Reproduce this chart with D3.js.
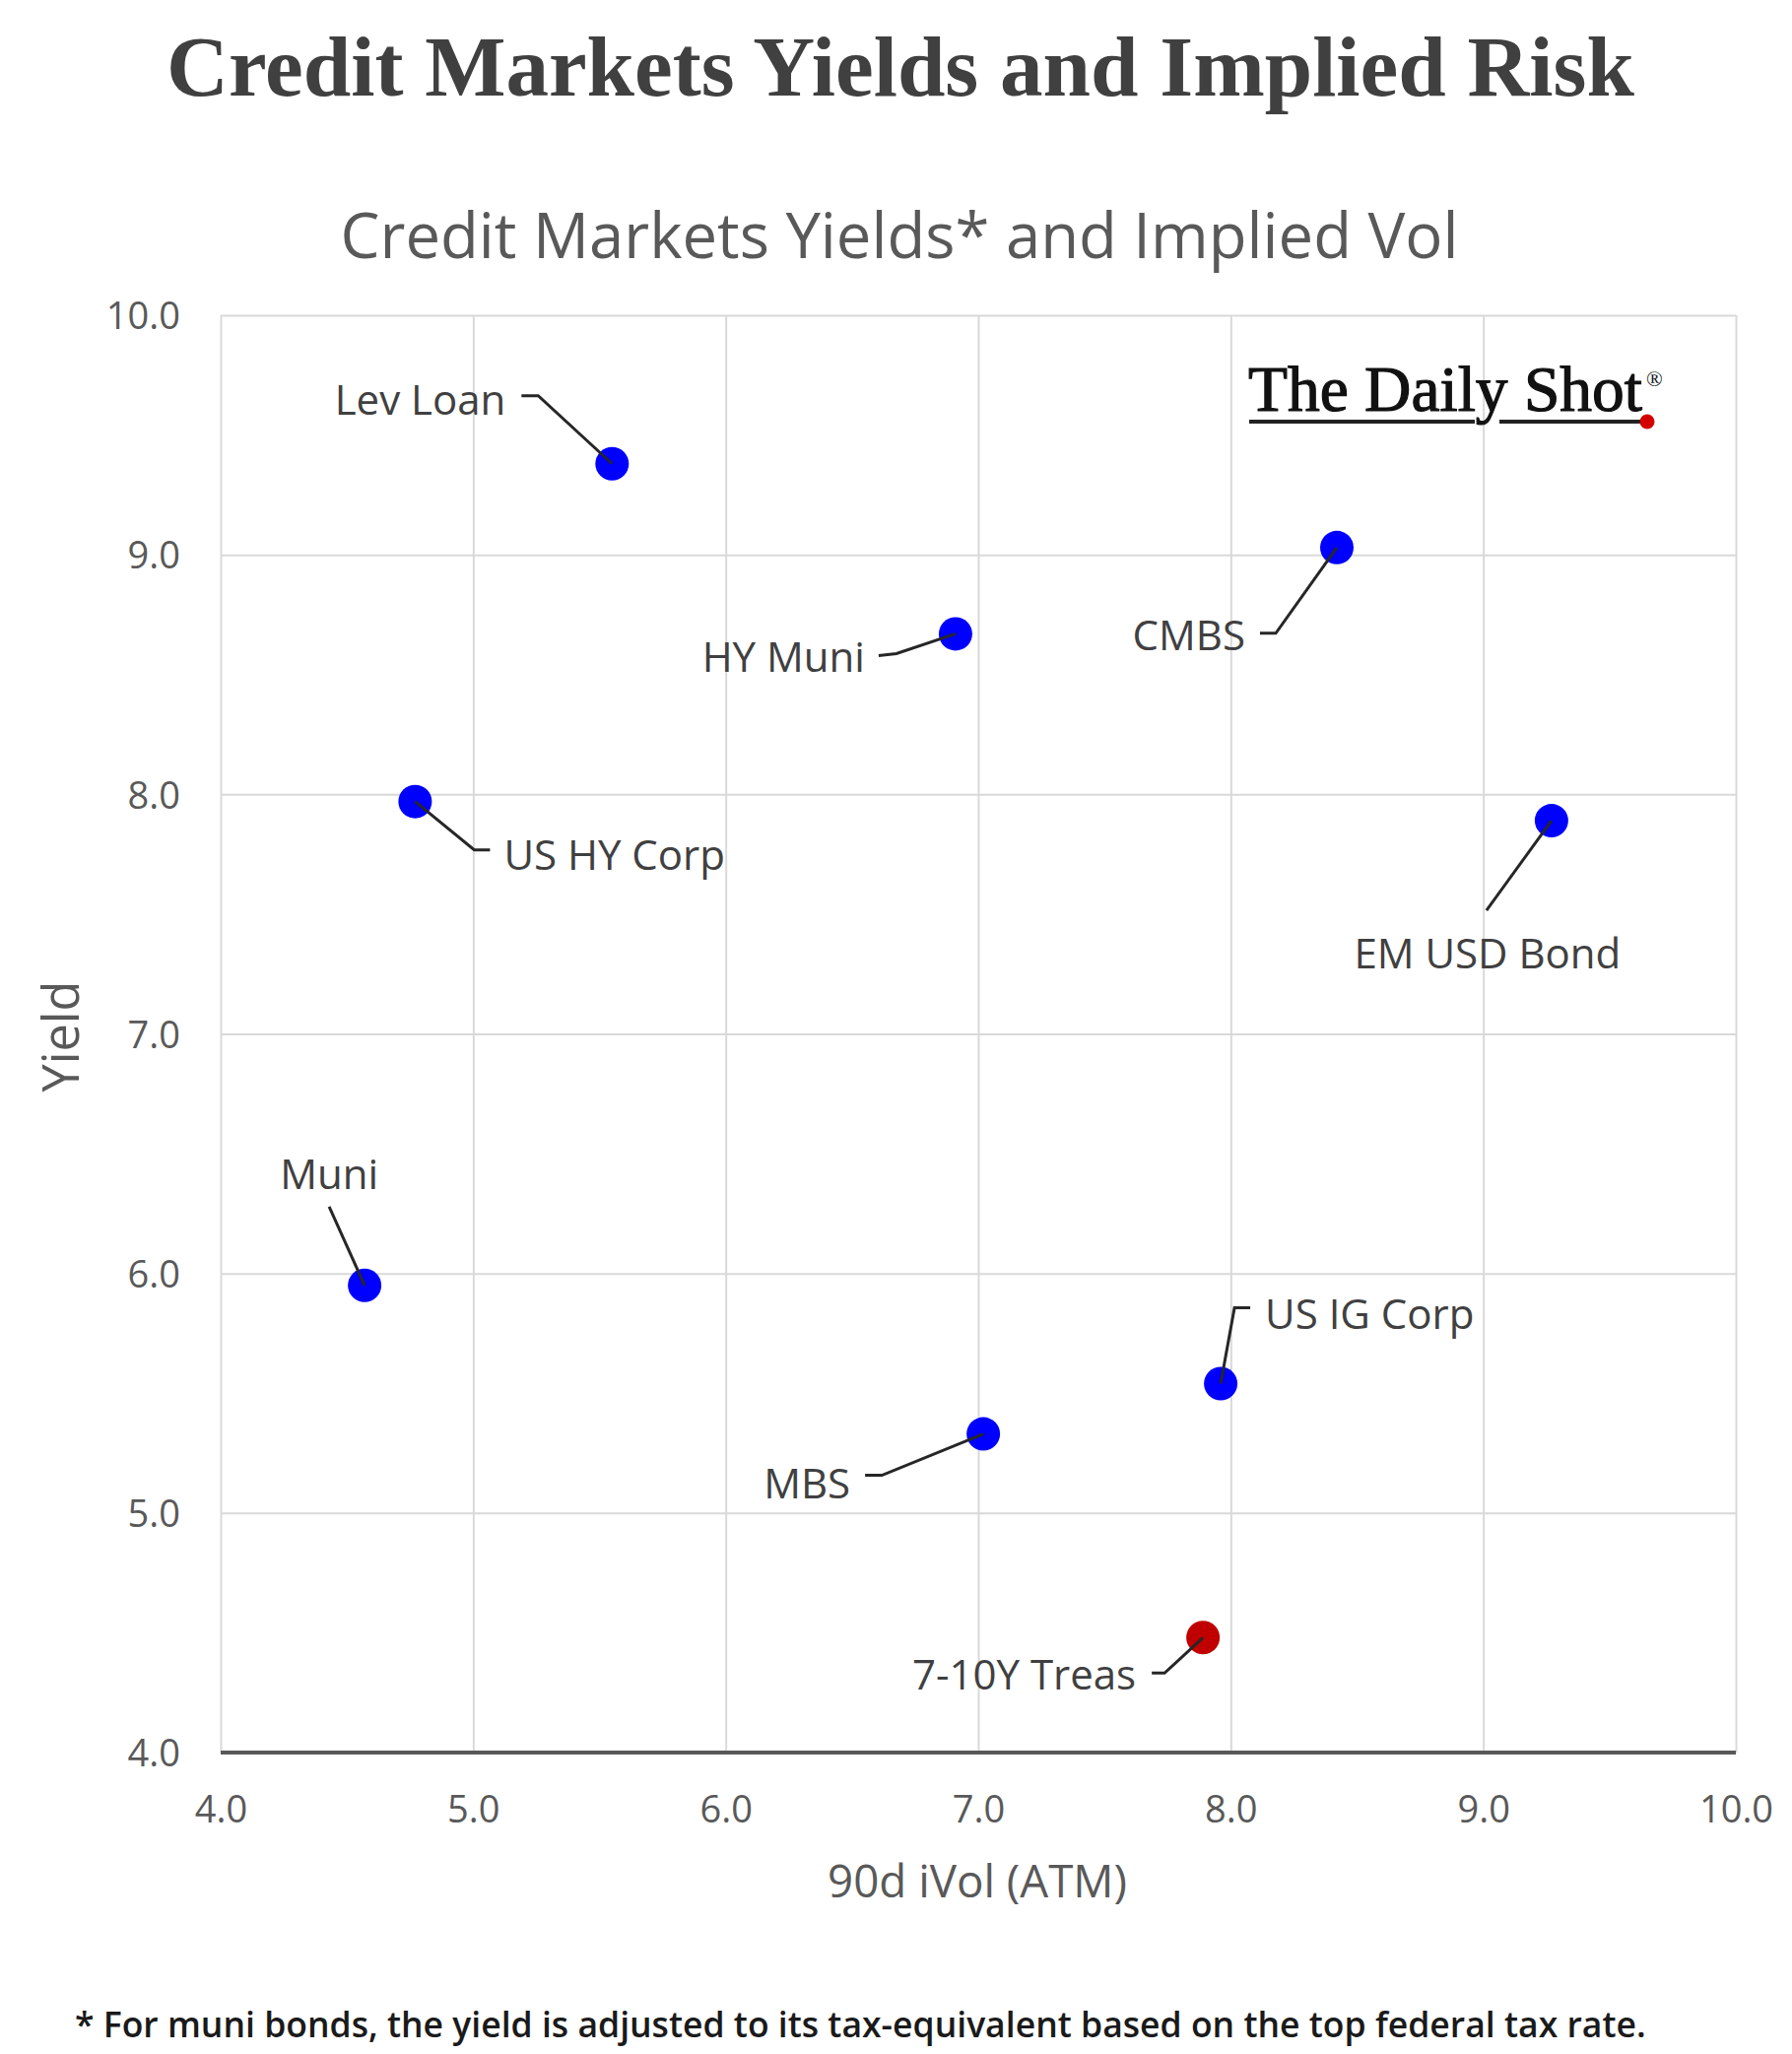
<!DOCTYPE html>
<html>
<head>
<meta charset="utf-8">
<script src="https://cdn.jsdelivr.net/npm/d3@7"></script>
<style>
  html, body { margin: 0; padding: 0; background: #ffffff; }
  svg { display: block; }
</style>
</head>
<body>
<svg id="chart" width="1819" height="2085"></svg>
<script>
// ---------------- data ----------------
const categories = ["Lev Loan", "HY Muni", "CMBS", "US HY Corp", "EM USD Bond", "Muni", "US IG Corp", "MBS", "7-10Y Treas"];
const impliedVol = [5.55, 6.91, 8.42, 4.77, 9.27, 4.57, 7.96, 7.02, 7.89];
const yields     = [9.38, 8.67, 9.03, 7.97, 7.89, 5.95, 5.54, 5.33, 4.48];
const highlighted = ["7-10Y Treas"];
const xTicks = [4, 5, 6, 7, 8, 9, 10];
const yTicks = [4, 5, 6, 7, 8, 9, 10];

const titleText = "Credit Markets Yields and Implied Risk";
const subtitleText = "Credit Markets Yields* and Implied Vol";
const xAxisTitle = "90d iVol (ATM)";
const yAxisTitle = "Yield";
const footnoteText = "* For muni bonds, the yield is adjusted to its tax-equivalent based on the top federal tax rate.";
const logoText = "The Daily Shot";

// ---------------- layout (label placement relative to each point, px) ----------------
const labelLayout = {
  "Lev Loan":    { anchor: "end",    dx: -108, dy: -50, path: [[-92, -69], [-75, -69], [0, 0]] },
  "HY Muni":     { anchor: "end",    dx: -92,  dy: 39,  path: [[-78, 22], [-60, 20], [0, 0]] },
  "CMBS":        { anchor: "end",    dx: -93,  dy: 104, path: [[-78, 87], [-62, 87], [0, 0]] },
  "US HY Corp":  { anchor: "start",  dx: 90,   dy: 69,  path: [[0, 0], [60, 49], [76, 49]] },
  "EM USD Bond": { anchor: "middle", dx: -65,  dy: 150, path: [[-66, 91], [0, 0]] },
  "Muni":        { anchor: "middle", dx: -36,  dy: -98, path: [[-36, -80], [0, 0]] },
  "US IG Corp":  { anchor: "start",  dx: 45,   dy: -56, path: [[0, 0], [14, -77], [30, -77]] },
  "MBS":         { anchor: "end",    dx: -135, dy: 65,  path: [[-120, 42], [-103, 42], [0, 0]] },
  "7-10Y Treas": { anchor: "end",    dx: -68,  dy: 53,  path: [[-52, 36], [-39, 36], [0, 0]] }
};

const W = 1819, H = 2085;
const plot = { left: 224, right: 1762, top: 320, bottom: 1779 };
const grey = "#595959";
const sans = "'Open Sans', 'Noto Sans', sans-serif";

const svg = d3.select("#chart");
svg.append("rect").attr("width", W).attr("height", H).attr("fill", "#ffffff");

function fitWidth(sel, target) {
  const node = sel.node();
  const fs = parseFloat(sel.attr("font-size"));
  const w = node.getComputedTextLength();
  if (w > 0) sel.attr("font-size", (fs * target / w).toFixed(2));
  return sel;
}

// ---------------- titles ----------------
const title = svg.append("text")
  .attr("x", 914).attr("y", 97)
  .attr("text-anchor", "middle")
  .attr("font-family", "'Liberation Serif', 'DejaVu Serif', serif")
  .attr("font-weight", "bold")
  .attr("font-size", 78)
  .attr("fill", "#404040")
  .text(titleText);
fitWidth(title, 1490);

const subtitle = svg.append("text")
  .attr("x", 913).attr("y", 262)
  .attr("text-anchor", "middle")
  .attr("font-family", sans)
  .attr("font-size", 56)
  .attr("fill", grey)
  .text(subtitleText);
fitWidth(subtitle, 1135);

// ---------------- scales ----------------
const x = d3.scaleLinear().domain([4, 10]).range([plot.left, plot.right]);
const y = d3.scaleLinear().domain([4, 10]).range([plot.bottom, plot.top]);

// vertical gridlines
const gx = svg.append("g")
  .attr("transform", `translate(0,${plot.bottom})`)
  .call(d3.axisBottom(x).tickValues(xTicks).tickSize(-(plot.bottom - plot.top)).tickFormat(d3.format(".1f")));
gx.select(".domain").remove();
gx.selectAll(".tick line").attr("stroke", "#d9d9d9").attr("stroke-width", 2);
gx.selectAll(".tick text")
  .attr("y", 71).attr("dy", 0)
  .attr("font-family", sans).attr("font-size", 38).attr("fill", grey);

// horizontal gridlines
const gy = svg.append("g")
  .attr("transform", `translate(${plot.left},0)`)
  .call(d3.axisLeft(y).tickValues(yTicks).tickSize(-(plot.right - plot.left)).tickFormat(d3.format(".1f")));
gy.select(".domain").remove();
gy.selectAll(".tick line").attr("stroke", d => d === 4 ? "none" : "#d9d9d9").attr("stroke-width", 2);
gy.selectAll(".tick text")
  .attr("x", -41).attr("dy", "0.36em")
  .attr("font-family", sans).attr("font-size", 38).attr("fill", grey);

// bottom axis line
svg.append("line")
  .attr("x1", x(4)).attr("x2", x(10))
  .attr("y1", y(4)).attr("y2", y(4))
  .attr("stroke", grey).attr("stroke-width", 4);

// axis titles
const xt = svg.append("text")
  .attr("x", 992).attr("y", 1926)
  .attr("text-anchor", "middle")
  .attr("font-family", sans).attr("font-size", 44)
  .attr("fill", grey)
  .text(xAxisTitle);
fitWidth(xt, 304);

const yt = svg.append("text")
  .attr("transform", "translate(80,1052) rotate(-90)")
  .attr("text-anchor", "middle")
  .attr("font-family", sans).attr("font-size", 50)
  .attr("fill", grey)
  .text(yAxisTitle);
fitWidth(yt, 113);

// ---------------- logo ----------------
const logo = svg.append("g");
const lt = logo.append("text")
  .attr("x", 1267).attr("y", 417)
  .attr("font-family", "'Liberation Serif', 'DejaVu Serif', serif")
  .attr("font-size", 66)
  .attr("fill", "#111111")
  .attr("stroke", "#111111")
  .attr("stroke-width", 1.2)
  .text(logoText);
fitWidth(lt, 400);
logo.append("text")
  .attr("x", 1671).attr("y", 392)
  .attr("font-family", "'Liberation Serif', serif")
  .attr("font-size", 22)
  .attr("fill", "#111111")
  .text("®");
logo.append("line").attr("x1", 1268).attr("x2", 1497).attr("y1", 428).attr("y2", 428)
  .attr("stroke", "#222222").attr("stroke-width", 4);
logo.append("line").attr("x1", 1522).attr("x2", 1672).attr("y1", 428).attr("y2", 428)
  .attr("stroke", "#222222").attr("stroke-width", 4);
logo.append("circle").attr("cx", 1672).attr("cy", 428).attr("r", 7.5).attr("fill", "#d40000");

// ---------------- points ----------------
const points = categories.map((c, i) => ({ name: c, vol: impliedVol[i], yld: yields[i] }));

svg.append("g").selectAll("circle")
  .data(points)
  .join("circle")
  .attr("cx", d => x(d.vol))
  .attr("cy", d => y(d.yld))
  .attr("r", 17)
  .attr("fill", d => highlighted.includes(d.name) ? "#c00000" : "#0000ff");

// leader lines
const lineGen = d3.line();
svg.append("g").selectAll("path")
  .data(points)
  .join("path")
  .attr("d", d => {
    const L = labelLayout[d.name];
    const cx = x(d.vol), cy = y(d.yld);
    return lineGen(L.path.map(p => [cx + p[0], cy + p[1]]));
  })
  .attr("fill", "none")
  .attr("stroke", "#262626")
  .attr("stroke-width", 3);

// labels
svg.append("g").selectAll("text")
  .data(points)
  .join("text")
  .attr("x", d => x(d.vol) + labelLayout[d.name].dx)
  .attr("y", d => y(d.yld) + labelLayout[d.name].dy)
  .attr("text-anchor", d => labelLayout[d.name].anchor)
  .attr("font-family", sans)
  .attr("font-size", 42)
  .attr("fill", "#404040")
  .text(d => d.name);

// ---------------- footnote ----------------
const fn = svg.append("text")
  .attr("x", 76).attr("y", 2068)
  .attr("font-family", sans)
  .attr("font-weight", 600)
  .attr("font-size", 34)
  .attr("fill", "#1a1a1a")
  .text(footnoteText);
fitWidth(fn, 1595);
</script>
</body>
</html>
